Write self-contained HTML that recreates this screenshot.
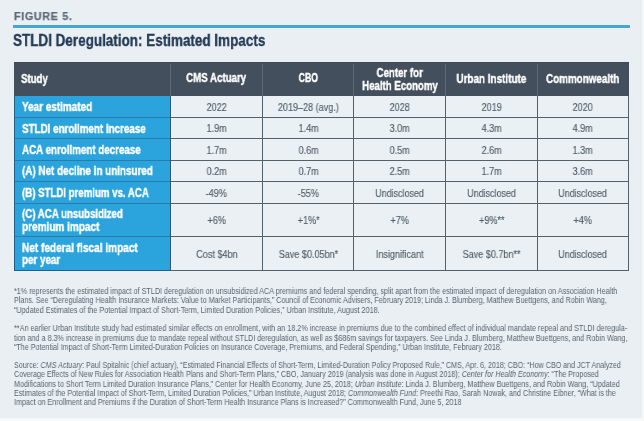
<!DOCTYPE html>
<html><head><meta charset="utf-8"><style>
html,body{margin:0;padding:0;}
body{width:644px;height:421px;overflow:hidden;background:#f7f9f9;position:relative;font-family:"Liberation Sans",sans-serif;}
#band{position:absolute;left:0;top:0;width:642px;height:418px;background:#e8eef7;}
#panel{position:absolute;left:0;top:0;width:640px;height:416px;background:#e9eff3;}
.t{position:absolute;white-space:nowrap;line-height:1;will-change:transform;}
i{font-style:italic;}
</style></head><body>
<div id="band"></div><div id="panel"></div>
<div style="position:absolute;left:13px;top:25px;width:617px;height:3px;background:#45a6d8"></div>
<div style="position:absolute;left:14px;top:62px;width:615px;height:34px;background:#434f5c"></div>
<div style="position:absolute;left:14px;top:62px;width:615px;height:1px;background:#3b4852"></div>
<div style="position:absolute;left:170px;top:64px;width:1px;height:32px;background:#5b6b7a"></div>
<div style="position:absolute;left:262px;top:64px;width:1px;height:32px;background:#5b6b7a"></div>
<div style="position:absolute;left:353px;top:64px;width:1px;height:32px;background:#5b6b7a"></div>
<div style="position:absolute;left:445px;top:64px;width:1px;height:32px;background:#5b6b7a"></div>
<div style="position:absolute;left:537px;top:64px;width:1px;height:32px;background:#5b6b7a"></div>
<div style="position:absolute;left:170px;top:96px;width:459px;height:175px;background:#eaf0f3"></div>
<div style="position:absolute;left:14px;top:96px;width:156px;height:175px;background:#2ba4de"></div>
<div style="position:absolute;left:14px;top:117px;width:156px;height:1px;background:#2b7cab"></div>
<div style="position:absolute;left:170px;top:117px;width:459px;height:1px;background:#53616b"></div>
<div style="position:absolute;left:14px;top:138px;width:156px;height:1px;background:#2b7cab"></div>
<div style="position:absolute;left:170px;top:138px;width:459px;height:1px;background:#53616b"></div>
<div style="position:absolute;left:14px;top:160px;width:156px;height:1px;background:#2b7cab"></div>
<div style="position:absolute;left:170px;top:160px;width:459px;height:1px;background:#53616b"></div>
<div style="position:absolute;left:14px;top:181px;width:156px;height:1px;background:#2b7cab"></div>
<div style="position:absolute;left:170px;top:181px;width:459px;height:1px;background:#53616b"></div>
<div style="position:absolute;left:14px;top:203px;width:156px;height:1px;background:#2b7cab"></div>
<div style="position:absolute;left:170px;top:203px;width:459px;height:1px;background:#53616b"></div>
<div style="position:absolute;left:14px;top:236px;width:156px;height:1px;background:#2b7cab"></div>
<div style="position:absolute;left:170px;top:236px;width:459px;height:1px;background:#53616b"></div>
<div style="position:absolute;left:170px;top:96px;width:1px;height:175px;background:#2f5870"></div>
<div style="position:absolute;left:262px;top:96px;width:1px;height:175px;background:#53616b"></div>
<div style="position:absolute;left:353px;top:96px;width:1px;height:175px;background:#53616b"></div>
<div style="position:absolute;left:445px;top:96px;width:1px;height:175px;background:#53616b"></div>
<div style="position:absolute;left:537px;top:96px;width:1px;height:175px;background:#53616b"></div>
<div style="position:absolute;left:14px;top:96px;width:1px;height:175px;background:#225f86"></div>
<div style="position:absolute;left:14px;top:270px;width:156px;height:1px;background:#225f86"></div>
<div style="position:absolute;left:170px;top:270px;width:459px;height:1px;background:#53616b"></div>
<div style="position:absolute;left:628px;top:96px;width:1px;height:175px;background:#53616b"></div>
<div class="t" style="left:13.80px;top:10.66px;font-size:10.8px;font-weight:bold;color:#5e6a79;transform:scaleX(0.9900);transform-origin:0 0;letter-spacing:0.7px;-webkit-text-stroke:0.25px #5e6a79;">FIGURE 5.</div>
<div class="t" style="left:13.30px;top:31.91px;font-size:17px;font-weight:bold;color:#233b58;transform:scaleX(0.7925);transform-origin:0 0;-webkit-text-stroke:0.35px #243a55;">STLDI Deregulation: Estimated Impacts</div>
<div class="t" style="left:21.30px;top:72.54px;font-size:12px;font-weight:bold;color:#ffffff;transform:scaleX(0.8007);transform-origin:0 0;-webkit-text-stroke:0.4px #ffffff;">Study</div>
<div class="t" style="left:179.18px;top:72.44px;width:74.25px;font-size:12px;font-weight:bold;color:#ffffff;transform:scaleX(0.8081);transform-origin:50% 0;-webkit-text-stroke:0.4px #ffffff;">CMS Actuary</div>
<div class="t" style="left:294.96px;top:72.44px;width:26.67px;font-size:12px;font-weight:bold;color:#ffffff;transform:scaleX(0.7274);transform-origin:50% 0;-webkit-text-stroke:0.4px #ffffff;">CBO</div>
<div class="t" style="left:371.03px;top:66.64px;width:57.34px;font-size:12px;font-weight:bold;color:#ffffff;transform:scaleX(0.8074);transform-origin:50% 0;-webkit-text-stroke:0.4px #ffffff;">Center for</div>
<div class="t" style="left:352.78px;top:79.84px;width:94.03px;font-size:12px;font-weight:bold;color:#ffffff;transform:scaleX(0.8040);transform-origin:50% 0;-webkit-text-stroke:0.4px #ffffff;">Health Economy</div>
<div class="t" style="left:449.06px;top:72.54px;width:84.67px;font-size:12px;font-weight:bold;color:#ffffff;transform:scaleX(0.8244);transform-origin:50% 0;-webkit-text-stroke:0.4px #ffffff;">Urban Institute</div>
<div class="t" style="left:538.33px;top:72.54px;width:89.34px;font-size:12px;font-weight:bold;color:#ffffff;transform:scaleX(0.8204);transform-origin:50% 0;-webkit-text-stroke:0.4px #ffffff;">Commonwealth</div>
<div class="t" style="left:21.80px;top:101.44px;font-size:12px;font-weight:bold;color:#ffffff;transform:scaleX(0.8274);transform-origin:0 0;-webkit-text-stroke:0.4px #ffffff;">Year estimated</div>
<div class="t" style="left:21.80px;top:122.64px;font-size:12px;font-weight:bold;color:#ffffff;transform:scaleX(0.8171);transform-origin:0 0;-webkit-text-stroke:0.4px #ffffff;">STLDI enrollment increase</div>
<div class="t" style="left:21.80px;top:144.24px;font-size:12px;font-weight:bold;color:#ffffff;transform:scaleX(0.8152);transform-origin:0 0;-webkit-text-stroke:0.4px #ffffff;">ACA enrollment decrease</div>
<div class="t" style="left:21.80px;top:165.44px;font-size:12px;font-weight:bold;color:#ffffff;transform:scaleX(0.8208);transform-origin:0 0;-webkit-text-stroke:0.4px #ffffff;">(A) Net decline in uninsured</div>
<div class="t" style="left:21.80px;top:187.04px;font-size:12px;font-weight:bold;color:#ffffff;transform:scaleX(0.8047);transform-origin:0 0;-webkit-text-stroke:0.4px #ffffff;">(B) STLDI premium vs. ACA</div>
<div class="t" style="left:21.80px;top:208.04px;font-size:12px;font-weight:bold;color:#ffffff;transform:scaleX(0.8057);transform-origin:0 0;-webkit-text-stroke:0.4px #ffffff;">(C) ACA unsubsidized</div>
<div class="t" style="left:21.80px;top:220.84px;font-size:12px;font-weight:bold;color:#ffffff;transform:scaleX(0.8349);transform-origin:0 0;-webkit-text-stroke:0.4px #ffffff;">premium impact</div>
<div class="t" style="left:21.80px;top:241.54px;font-size:12px;font-weight:bold;color:#ffffff;transform:scaleX(0.8380);transform-origin:0 0;-webkit-text-stroke:0.4px #ffffff;">Net federal fiscal impact</div>
<div class="t" style="left:21.80px;top:254.04px;font-size:12px;font-weight:bold;color:#ffffff;transform:scaleX(0.8179);transform-origin:0 0;-webkit-text-stroke:0.4px #ffffff;">per year</div>
<div class="t" style="left:204.82px;top:102.01px;width:23.36px;font-size:10.5px;font-weight:normal;color:#535e69;transform:scaleX(0.8620);transform-origin:50% 0;-webkit-text-stroke:0.15px #535e69;">2022</div>
<div class="t" style="left:273.28px;top:102.01px;width:70.64px;font-size:10.5px;font-weight:normal;color:#535e69;transform:scaleX(0.8620);transform-origin:50% 0;-webkit-text-stroke:0.15px #535e69;">2019–28 (avg.)</div>
<div class="t" style="left:387.72px;top:102.01px;width:23.36px;font-size:10.5px;font-weight:normal;color:#535e69;transform:scaleX(0.8620);transform-origin:50% 0;-webkit-text-stroke:0.15px #535e69;">2028</div>
<div class="t" style="left:479.62px;top:102.01px;width:23.36px;font-size:10.5px;font-weight:normal;color:#535e69;transform:scaleX(0.8620);transform-origin:50% 0;-webkit-text-stroke:0.15px #535e69;">2019</div>
<div class="t" style="left:570.82px;top:102.01px;width:23.36px;font-size:10.5px;font-weight:normal;color:#535e69;transform:scaleX(0.8620);transform-origin:50% 0;-webkit-text-stroke:0.15px #535e69;">2020</div>
<div class="t" style="left:204.83px;top:123.31px;width:23.34px;font-size:10.5px;font-weight:normal;color:#535e69;transform:scaleX(0.8620);transform-origin:50% 0;-webkit-text-stroke:0.15px #535e69;">1.9m</div>
<div class="t" style="left:296.93px;top:123.31px;width:23.34px;font-size:10.5px;font-weight:normal;color:#535e69;transform:scaleX(0.8620);transform-origin:50% 0;-webkit-text-stroke:0.15px #535e69;">1.4m</div>
<div class="t" style="left:387.73px;top:123.31px;width:23.34px;font-size:10.5px;font-weight:normal;color:#535e69;transform:scaleX(0.8620);transform-origin:50% 0;-webkit-text-stroke:0.15px #535e69;">3.0m</div>
<div class="t" style="left:479.63px;top:123.31px;width:23.34px;font-size:10.5px;font-weight:normal;color:#535e69;transform:scaleX(0.8620);transform-origin:50% 0;-webkit-text-stroke:0.15px #535e69;">4.3m</div>
<div class="t" style="left:570.83px;top:123.31px;width:23.34px;font-size:10.5px;font-weight:normal;color:#535e69;transform:scaleX(0.8620);transform-origin:50% 0;-webkit-text-stroke:0.15px #535e69;">4.9m</div>
<div class="t" style="left:204.83px;top:145.01px;width:23.34px;font-size:10.5px;font-weight:normal;color:#535e69;transform:scaleX(0.8620);transform-origin:50% 0;-webkit-text-stroke:0.15px #535e69;">1.7m</div>
<div class="t" style="left:296.93px;top:145.01px;width:23.34px;font-size:10.5px;font-weight:normal;color:#535e69;transform:scaleX(0.8620);transform-origin:50% 0;-webkit-text-stroke:0.15px #535e69;">0.6m</div>
<div class="t" style="left:387.73px;top:145.01px;width:23.34px;font-size:10.5px;font-weight:normal;color:#535e69;transform:scaleX(0.8620);transform-origin:50% 0;-webkit-text-stroke:0.15px #535e69;">0.5m</div>
<div class="t" style="left:479.63px;top:145.01px;width:23.34px;font-size:10.5px;font-weight:normal;color:#535e69;transform:scaleX(0.8620);transform-origin:50% 0;-webkit-text-stroke:0.15px #535e69;">2.6m</div>
<div class="t" style="left:570.83px;top:145.01px;width:23.34px;font-size:10.5px;font-weight:normal;color:#535e69;transform:scaleX(0.8620);transform-origin:50% 0;-webkit-text-stroke:0.15px #535e69;">1.3m</div>
<div class="t" style="left:204.83px;top:166.21px;width:23.34px;font-size:10.5px;font-weight:normal;color:#535e69;transform:scaleX(0.8620);transform-origin:50% 0;-webkit-text-stroke:0.15px #535e69;">0.2m</div>
<div class="t" style="left:296.93px;top:166.21px;width:23.34px;font-size:10.5px;font-weight:normal;color:#535e69;transform:scaleX(0.8620);transform-origin:50% 0;-webkit-text-stroke:0.15px #535e69;">0.7m</div>
<div class="t" style="left:387.73px;top:166.21px;width:23.34px;font-size:10.5px;font-weight:normal;color:#535e69;transform:scaleX(0.8620);transform-origin:50% 0;-webkit-text-stroke:0.15px #535e69;">2.5m</div>
<div class="t" style="left:479.63px;top:166.21px;width:23.34px;font-size:10.5px;font-weight:normal;color:#535e69;transform:scaleX(0.8620);transform-origin:50% 0;-webkit-text-stroke:0.15px #535e69;">1.7m</div>
<div class="t" style="left:570.83px;top:166.21px;width:23.34px;font-size:10.5px;font-weight:normal;color:#535e69;transform:scaleX(0.8620);transform-origin:50% 0;-webkit-text-stroke:0.15px #535e69;">3.6m</div>
<div class="t" style="left:204.24px;top:187.71px;width:24.52px;font-size:10.5px;font-weight:normal;color:#535e69;transform:scaleX(0.8620);transform-origin:50% 0;-webkit-text-stroke:0.15px #535e69;">-49%</div>
<div class="t" style="left:296.34px;top:187.71px;width:24.52px;font-size:10.5px;font-weight:normal;color:#535e69;transform:scaleX(0.8620);transform-origin:50% 0;-webkit-text-stroke:0.15px #535e69;">-55%</div>
<div class="t" style="left:370.80px;top:187.71px;width:57.20px;font-size:10.5px;font-weight:normal;color:#535e69;transform:scaleX(0.8480);transform-origin:50% 0;-webkit-text-stroke:0.15px #535e69;">Undisclosed</div>
<div class="t" style="left:462.70px;top:187.71px;width:57.20px;font-size:10.5px;font-weight:normal;color:#535e69;transform:scaleX(0.8480);transform-origin:50% 0;-webkit-text-stroke:0.15px #535e69;">Undisclosed</div>
<div class="t" style="left:553.90px;top:187.71px;width:57.20px;font-size:10.5px;font-weight:normal;color:#535e69;transform:scaleX(0.8480);transform-origin:50% 0;-webkit-text-stroke:0.15px #535e69;">Undisclosed</div>
<div class="t" style="left:205.84px;top:215.01px;width:21.31px;font-size:10.5px;font-weight:normal;color:#535e69;transform:scaleX(0.8620);transform-origin:50% 0;-webkit-text-stroke:0.15px #535e69;">+6%</div>
<div class="t" style="left:295.90px;top:215.01px;width:25.41px;font-size:10.5px;font-weight:normal;color:#535e69;transform:scaleX(0.8620);transform-origin:50% 0;-webkit-text-stroke:0.15px #535e69;">+1%*</div>
<div class="t" style="left:388.74px;top:215.01px;width:21.31px;font-size:10.5px;font-weight:normal;color:#535e69;transform:scaleX(0.8620);transform-origin:50% 0;-webkit-text-stroke:0.15px #535e69;">+7%</div>
<div class="t" style="left:476.56px;top:215.01px;width:29.48px;font-size:10.5px;font-weight:normal;color:#535e69;transform:scaleX(0.8620);transform-origin:50% 0;-webkit-text-stroke:0.15px #535e69;">+9%**</div>
<div class="t" style="left:571.84px;top:215.01px;width:21.31px;font-size:10.5px;font-weight:normal;color:#535e69;transform:scaleX(0.8620);transform-origin:50% 0;-webkit-text-stroke:0.15px #535e69;">+4%</div>
<div class="t" style="left:192.56px;top:248.51px;width:47.88px;font-size:10.5px;font-weight:normal;color:#535e69;transform:scaleX(0.8620);transform-origin:50% 0;-webkit-text-stroke:0.15px #535e69;">Cost $4bn</div>
<div class="t" style="left:274.15px;top:248.51px;width:68.91px;font-size:10.5px;font-weight:normal;color:#535e69;transform:scaleX(0.8620);transform-origin:50% 0;-webkit-text-stroke:0.15px #535e69;">Save $0.05bn*</div>
<div class="t" style="left:371.67px;top:248.51px;width:55.45px;font-size:10.5px;font-weight:normal;color:#535e69;transform:scaleX(0.8620);transform-origin:50% 0;-webkit-text-stroke:0.15px #535e69;">Insignificant</div>
<div class="t" style="left:457.73px;top:248.51px;width:67.14px;font-size:10.5px;font-weight:normal;color:#535e69;transform:scaleX(0.8620);transform-origin:50% 0;-webkit-text-stroke:0.15px #535e69;">Save $0.7bn**</div>
<div class="t" style="left:553.90px;top:248.51px;width:57.20px;font-size:10.5px;font-weight:normal;color:#535e69;transform:scaleX(0.8480);transform-origin:50% 0;-webkit-text-stroke:0.15px #535e69;">Undisclosed</div>
<div class="t" style="left:14.20px;top:287.32px;font-size:8.6px;font-weight:normal;color:#5b646e;transform:scaleX(0.8375);transform-origin:0 0;">*1% represents the estimated impact of STLDI deregulation on unsubsidized ACA premiums and federal spending, split apart from the estimated impact of deregulation on Association Health</div>
<div class="t" style="left:14.20px;top:296.32px;font-size:8.6px;font-weight:normal;color:#5b646e;transform:scaleX(0.8323);transform-origin:0 0;">Plans. See “Deregulating Health Insurance Markets: Value to Market Participants,” Council of Economic Advisers, February 2019; Linda J. Blumberg, Matthew Buettgens, and Robin Wang,</div>
<div class="t" style="left:14.20px;top:305.52px;font-size:8.6px;font-weight:normal;color:#5b646e;transform:scaleX(0.8392);transform-origin:0 0;">“Updated Estimates of the Potential Impact of Short-Term, Limited Duration Policies,” Urban Institute, August 2018.</div>
<div class="t" style="left:14.20px;top:324.32px;font-size:8.6px;font-weight:normal;color:#5b646e;transform:scaleX(0.8416);transform-origin:0 0;">**An earlier Urban Institute study had estimated similar effects on enrollment, with an 18.2% increase in premiums due to the combined effect of individual mandate repeal and STLDI deregula-</div>
<div class="t" style="left:14.20px;top:333.62px;font-size:8.6px;font-weight:normal;color:#5b646e;transform:scaleX(0.8359);transform-origin:0 0;">tion and a 8.3% increase in premiums due to mandate repeal without STLDI deregulation, as well as $686m savings for taxpayers. See Linda J. Blumberg, Matthew Buettgens, and Robin Wang,</div>
<div class="t" style="left:14.20px;top:342.82px;font-size:8.6px;font-weight:normal;color:#5b646e;transform:scaleX(0.8343);transform-origin:0 0;">“The Potential Impact of Short-Term Limited-Duration Policies on Insurance Coverage, Premiums, and Federal Spending,” Urban Institute, February 2018.</div>
<div class="t" style="left:14.20px;top:361.12px;font-size:8.6px;font-weight:normal;color:#5b646e;transform:scaleX(0.8283);transform-origin:0 0;">Source: <i>CMS Actuary</i>: Paul Spitalnic (chief actuary), “Estimated Financial Effects of Short-Term, Limited-Duration Policy Proposed Rule,” CMS, Apr. 6, 2018; CBO: “How CBO and JCT Analyzed</div>
<div class="t" style="left:14.20px;top:370.42px;font-size:8.6px;font-weight:normal;color:#5b646e;transform:scaleX(0.8296);transform-origin:0 0;">Coverage Effects of New Rules for Association Health Plans and Short-Term Plans,” CBO, January 2019 (analysis was done in August 2018); <i>Center for Health Economy</i>: “The Proposed</div>
<div class="t" style="left:14.20px;top:379.72px;font-size:8.6px;font-weight:normal;color:#5b646e;transform:scaleX(0.8361);transform-origin:0 0;">Modifications to Short Term Limited Duration Insurance Plans,” Center for Health Economy, June 25, 2018; <i>Urban Institute</i>: Linda J. Blumberg, Matthew Buettgens, and Robin Wang, “Updated</div>
<div class="t" style="left:14.20px;top:389.02px;font-size:8.6px;font-weight:normal;color:#5b646e;transform:scaleX(0.8343);transform-origin:0 0;">Estimates of the Potential Impact of Short-Term, Limited Duration Policies,” Urban Institute, August 2018; <i>Commonwealth Fund</i>: Preethi Rao, Sarah Nowak, and Christine Eibner, “What is the</div>
<div class="t" style="left:14.20px;top:398.32px;font-size:8.6px;font-weight:normal;color:#5b646e;transform:scaleX(0.8357);transform-origin:0 0;">Impact on Enrollment and Premiums if the Duration of Short-Term Health Insurance Plans is Increased?” Commonwealth Fund, June 5, 2018</div>
</body></html>
